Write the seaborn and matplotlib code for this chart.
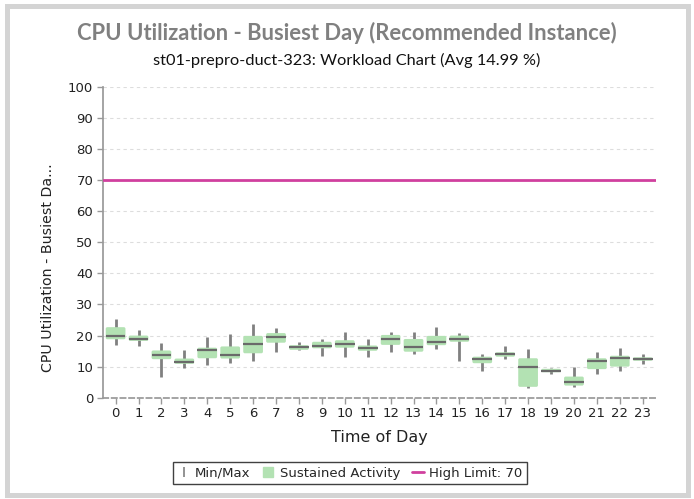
import matplotlib
matplotlib.use("Agg")
import matplotlib.pyplot as plt
import seaborn as sns
from matplotlib.patches import FancyBboxPatch, Rectangle
from matplotlib.lines import Line2D

# hourly CPU stats
hours = list(range(24))
mins = [17.0, 16.5, 6.6, 9.5, 10.5, 11.1, 11.9, 14.8, 15.2, 13.5, 13.0, 13.0,
        14.8, 14.1, 15.6, 11.9, 8.6, 12.5, 3.2, 7.6, 3.4, 7.6, 8.7, 10.8]
q1 = [18.8, 18.3, 12.4, 10.9, 12.7, 12.6, 14.3, 17.7, 15.4, 15.9, 16.1, 15.1,
      17.0, 14.8, 16.9, 18.0, 11.1, 13.2, 3.5, 8.2, 3.9, 9.2, 10.0, 11.9]
medians = [19.7, 19.0, 13.7, 11.6, 15.4, 13.9, 17.3, 19.4, 16.3, 16.7, 17.4, 15.9,
           18.9, 16.3, 17.9, 18.8, 12.4, 14.1, 10.0, 8.7, 5.0, 11.8, 12.7, 12.5]
q3 = [22.7, 20.0, 15.2, 12.6, 16.1, 16.5, 19.9, 20.8, 16.9, 18.0, 18.5, 16.8,
      20.2, 18.9, 19.9, 20.0, 13.2, 14.6, 12.7, 9.3, 6.8, 12.7, 13.5, 13.0]
maxs = [25.4, 21.8, 17.5, 15.4, 19.5, 20.4, 23.8, 22.4, 17.9, 18.8, 21.3, 18.8,
        21.3, 21.3, 22.9, 20.8, 14.0, 16.8, 15.8, 9.5, 10.0, 14.8, 15.9, 14.0]
high_limit = 70
yticks = list(range(0, 101, 10))

title = "CPU Utilization - Busiest Day (Recommended Instance)"
subtitle = "st01-prepro-duct-323: Workload Chart (Avg 14.99 %)"

box_green = "#b3e2b3"
whisker_grey = "#808080"
median_grey = "#6a6a6a"
limit_pink = "#d0409e"

sns.set_theme(style="white")
plt.rcParams['font.family'] = ['DejaVu Sans']

fig = plt.figure(figsize=(6.94, 4.99), dpi=100)
ax = fig.add_axes([0.1484, 0.203, 0.7968, 0.6227])
ax.set_xlim(-0.55, 23.58)
ax.set_ylim(0, 100)

# whiskers behind the boxes
ax.vlines(hours, mins, maxs, color=whisker_grey, lw=2, zorder=2)

w = 0.86
# pixel aspect so the rounded corners look round
fig.canvas.draw()
bb = ax.get_window_extent()
px_x = bb.width / (23.58 + 0.55)
px_y = bb.height / 100
aspect = px_x / px_y
for h, lo, hi in zip(hours, q1, q3):
    ax.add_patch(FancyBboxPatch((h - w / 2, lo), w, hi - lo,
                                boxstyle="round,pad=0,rounding_size=0.07",
                                mutation_aspect=aspect,
                                fc=box_green, ec="none", zorder=3))
ax.hlines(medians, [h - w / 2 for h in hours], [h + w / 2 for h in hours],
          color=median_grey, lw=1.6, zorder=4)

ax.axhline(high_limit, color=limit_pink, lw=2, zorder=5)

ax.set_xticks(hours)
ax.set_yticks(yticks)
ax.tick_params(axis='both', direction='out', length=4, width=1, color='#999999',
               labelsize=9.5, labelcolor='#222222', left=True, bottom=True, pad=3)
ax.yaxis.grid(True, ls=(0, (3, 3)), color='#dddddd', lw=0.8)
ax.xaxis.grid(False)
for s in ['top', 'right']:
    ax.spines[s].set_visible(False)
ax.spines['left'].set_color('#999999')
ax.spines['bottom'].set_color('#999999')
ax.spines['bottom'].set_linestyle((0, (3, 2)))

ax.set_xlabel("Time of Day", fontsize=11.5, color='#222222', labelpad=7)
ax.set_ylabel("CPU Utilization - Busiest Da...", fontsize=10.2, color='#222222')
ax.yaxis.set_label_coords(-0.087, 0.417)

fig.text(0.5, 1 - 33 / 499, title, ha='center', va='center', fontsize=15.8,
         fontweight='bold', color='#808080', family='Lato')
fig.text(0.5, 1 - 60 / 499, subtitle, ha='center', va='center', fontsize=11.8,
         color='#111111', family='Lato')

handles = [
    Line2D([], [], ls='none', marker='|', color=whisker_grey, markersize=7, mew=1.2),
    Line2D([], [], ls='none', marker='s', color=box_green, markersize=7),
    Line2D([], [], color=limit_pink, lw=2),
]
labels = ["Min/Max", "Sustained Activity", f"High Limit: {high_limit}"]
leg = fig.legend(handles, labels, loc='center', bbox_to_anchor=(350 / 694, 1 - 473 / 499),
                 ncol=3, fontsize=9.5, frameon=True, fancybox=False, edgecolor='#111111',
                 handlelength=0.9, handletextpad=0.4, columnspacing=0.9,
                 borderpad=0.35)
leg.get_frame().set_linewidth(1)

fig.patches.append(Rectangle((7 / 694, 1 - 495 / 499), 681 / 694, 489.5 / 499,
                             transform=fig.transFigure, fill=False,
                             ec='#d4d4d4', lw=3.6))

fig.savefig("out.png", dpi=100)
